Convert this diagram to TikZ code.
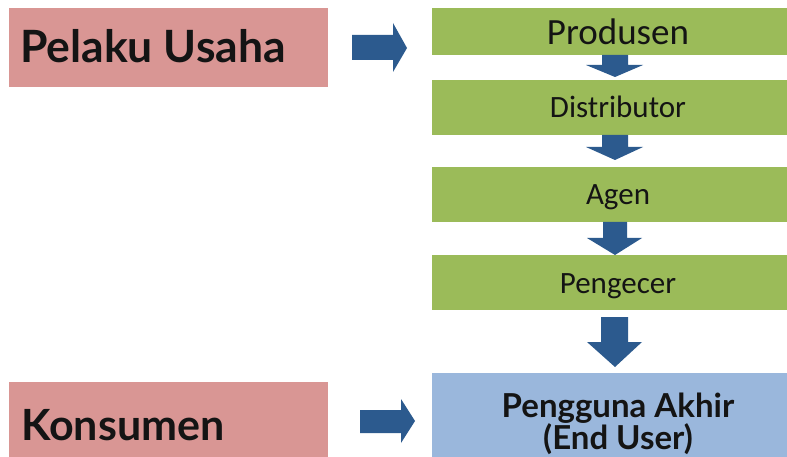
\documentclass[tikz,border=0pt]{standalone}
\usepackage{fontspec}
\setmainfont{Lato}
\newfontfamily\calfont{Carlito}
\definecolor{pinkbox}{HTML}{D99694}
\definecolor{greenbox}{HTML}{9BBB59}
\definecolor{bluebox}{HTML}{9AB7DC}
\definecolor{arrowblue}{HTML}{2C5A8E}
\definecolor{txt}{HTML}{141414}
\tikzset{
  lbox/.style={fill=pinkbox, draw=none, anchor=north west, inner sep=0pt, minimum width=319pt, text=txt},
  gbox/.style={fill=greenbox, draw=none, anchor=north west, inner sep=0pt, minimum width=355pt, text=txt, font=\calfont},
  blk/.style={fill=arrowblue}
}
\begin{document}
\begin{tikzpicture}[x=1pt,y=-1pt]
\useasboundingbox (0,0) rectangle (787,457);
\fill[white] (0,0) rectangle (787,457);
% left boxes
\node[lbox, minimum height=79pt] (pelaku) at (9,8) {};
\node[anchor=base west, inner sep=0pt, text=txt, font=\bfseries\fontsize{44.5}{48}\selectfont] (pelakut) at (20,63) {Pelaku Usaha};
\node[lbox, minimum height=75pt] (kons) at (9,382) {};
\node[anchor=base west, inner sep=0pt, text=txt, font=\bfseries\fontsize{43}{48}\selectfont] (konst) at (21,440) {Konsumen};
% right chain
\node[gbox, minimum height=47pt] (prod) at (432,8) {};
\node[anchor=base, inner sep=0pt, text=txt, font=\calfont\fontsize{37}{42}\selectfont] at (618,45) {Produsen};
\node[gbox, minimum height=55pt] (dist) at (432,80) {};
\node[anchor=base, inner sep=0pt, text=txt, font=\calfont\fontsize{31}{36}\selectfont] at (618,118) {Distributor};
\node[gbox, minimum height=55pt] (agen) at (432,167) {};
\node[anchor=base, inner sep=0pt, text=txt, font=\calfont\fontsize{31}{36}\selectfont] at (618,205) {Agen};
\node[gbox, minimum height=55pt] (peng) at (432,255) {};
\node[anchor=base, inner sep=0pt, text=txt, font=\calfont\fontsize{31}{36}\selectfont] at (618,293) {Pengecer};
\node[fill=bluebox, anchor=north west, inner sep=0pt, minimum width=355pt, minimum height=84pt] (user) at (432,373) {};
\node[anchor=base, inner sep=0pt, text=txt, font=\bfseries\fontsize{33}{36}\selectfont] at (618,417) {Pengguna Akhir};
\node[anchor=base, inner sep=0pt, text=txt, font=\bfseries\fontsize{33}{36}\selectfont] at (618,449) {(End User)};
% right arrows
\fill[blk] (352,35) -- (393,35) -- (393,23) -- (407,48) -- (393,72) -- (393,60) -- (352,60) -- cycle;
\fill[blk] (360,410) -- (401,410) -- (401,399) -- (415,421) -- (401,443) -- (401,433) -- (360,433) -- cycle;
% down arrows
\fill[blk] (602,55) -- (628,55) -- (628,65) -- (643,65) -- (615,77) -- (586,65) -- (602,65) -- cycle;
\fill[blk] (602,135) -- (628,135) -- (628,147) -- (643,147) -- (615,160) -- (586,147) -- (602,147) -- cycle;
\fill[blk] (603,222) -- (627,222) -- (627,238) -- (642,238) -- (615,255) -- (587,238) -- (603,238) -- cycle;
\fill[blk] (601,317) -- (628,317) -- (628,342) -- (642,342) -- (615,367) -- (587,342) -- (601,342) -- cycle;
\end{tikzpicture}
\end{document}
